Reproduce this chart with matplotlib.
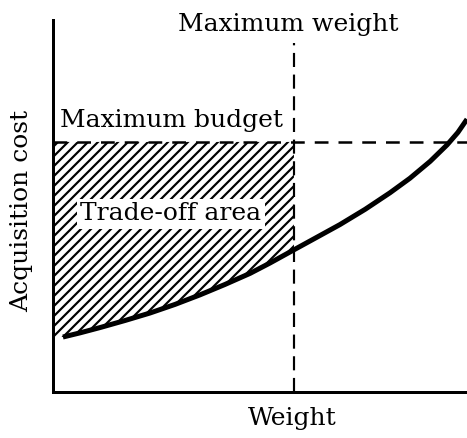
import numpy as np
import matplotlib
matplotlib.use('Agg')
import matplotlib.pyplot as plt

# values (weight 0..10, cost 0..9, no units shown)
weight = [0.24, 0.65, 1.14, 1.74, 2.34, 2.95, 3.55, 4.15, 4.76, 5.24,
          5.82, 6.33, 6.93, 7.54, 8.14, 8.62, 9.11, 9.52, 9.78, 10.0]
cost = [1.33, 1.43, 1.56, 1.73, 1.91, 2.12, 2.35, 2.60, 2.87, 3.12,
        3.44, 3.72, 4.05, 4.42, 4.82, 5.17, 5.58, 5.98, 6.28, 6.60]
max_weight = 5.82
max_budget = 6.05
max_weight_top = 8.44

plt.rcParams['font.family'] = ['DejaVu Serif']
plt.rcParams['hatch.linewidth'] = 1.3

dpi = 120
fig = plt.figure(figsize=(467 / dpi, 438 / dpi), dpi=dpi)
ax = fig.add_axes([53 / 467, 46 / 438, 414 / 467, 372 / 438])
ax.set_xlim(0, 10)
ax.set_ylim(0, 9)

# Кривая стоимости
ax.plot(weight, cost, color='black', lw=3.0, solid_capstyle='butt',
        solid_joinstyle='round', zorder=3)

# Заштрихованная область компромисса
w = np.array(weight)
c = np.array(cost)
mask = w <= max_weight
fw = np.r_[0, w[mask]]
fc = np.r_[c[0], c[mask]]
ax.fill_between(fw, fc, max_budget, facecolor='none', edgecolor='black',
                hatch='////', lw=0, zorder=1)

ax.plot([0, 10], [max_budget, max_budget], color='black', lw=1.5,
        dashes=(5.5, 4), zorder=2)
ax.plot([max_weight, max_weight], [0, max_weight_top], color='black', lw=1.3,
        dashes=(6.5, 3.5), zorder=2)

ax.text(0.17, 6.58, 'Maximum budget', fontsize=15, ha='left', va='center')
ax.text(2.85, 4.31, 'Trade-off area', fontsize=15, ha='center', va='center',
        bbox=dict(boxstyle='square,pad=0.15', fc='white', ec='none'), zorder=4)
ax.text(5.68, 8.9, 'Maximum weight', fontsize=15, ha='center', va='center',
        clip_on=False)

ax.set_xlabel('Weight', fontsize=15)
ax.xaxis.set_label_coords(0.577, -0.07)
ax.xaxis.label.set_va('center')
ax.set_ylabel('Acquisition cost', fontsize=15)
ax.yaxis.set_label_coords(-0.075, 0.487)
ax.yaxis.label.set_va('center')

ax.set_xticks([])
ax.set_yticks([])
ax.spines['top'].set_visible(False)
ax.spines['right'].set_visible(False)
ax.spines['left'].set_linewidth(1.8)
ax.spines['bottom'].set_linewidth(1.8)

fig.savefig('out.png', dpi=dpi)
